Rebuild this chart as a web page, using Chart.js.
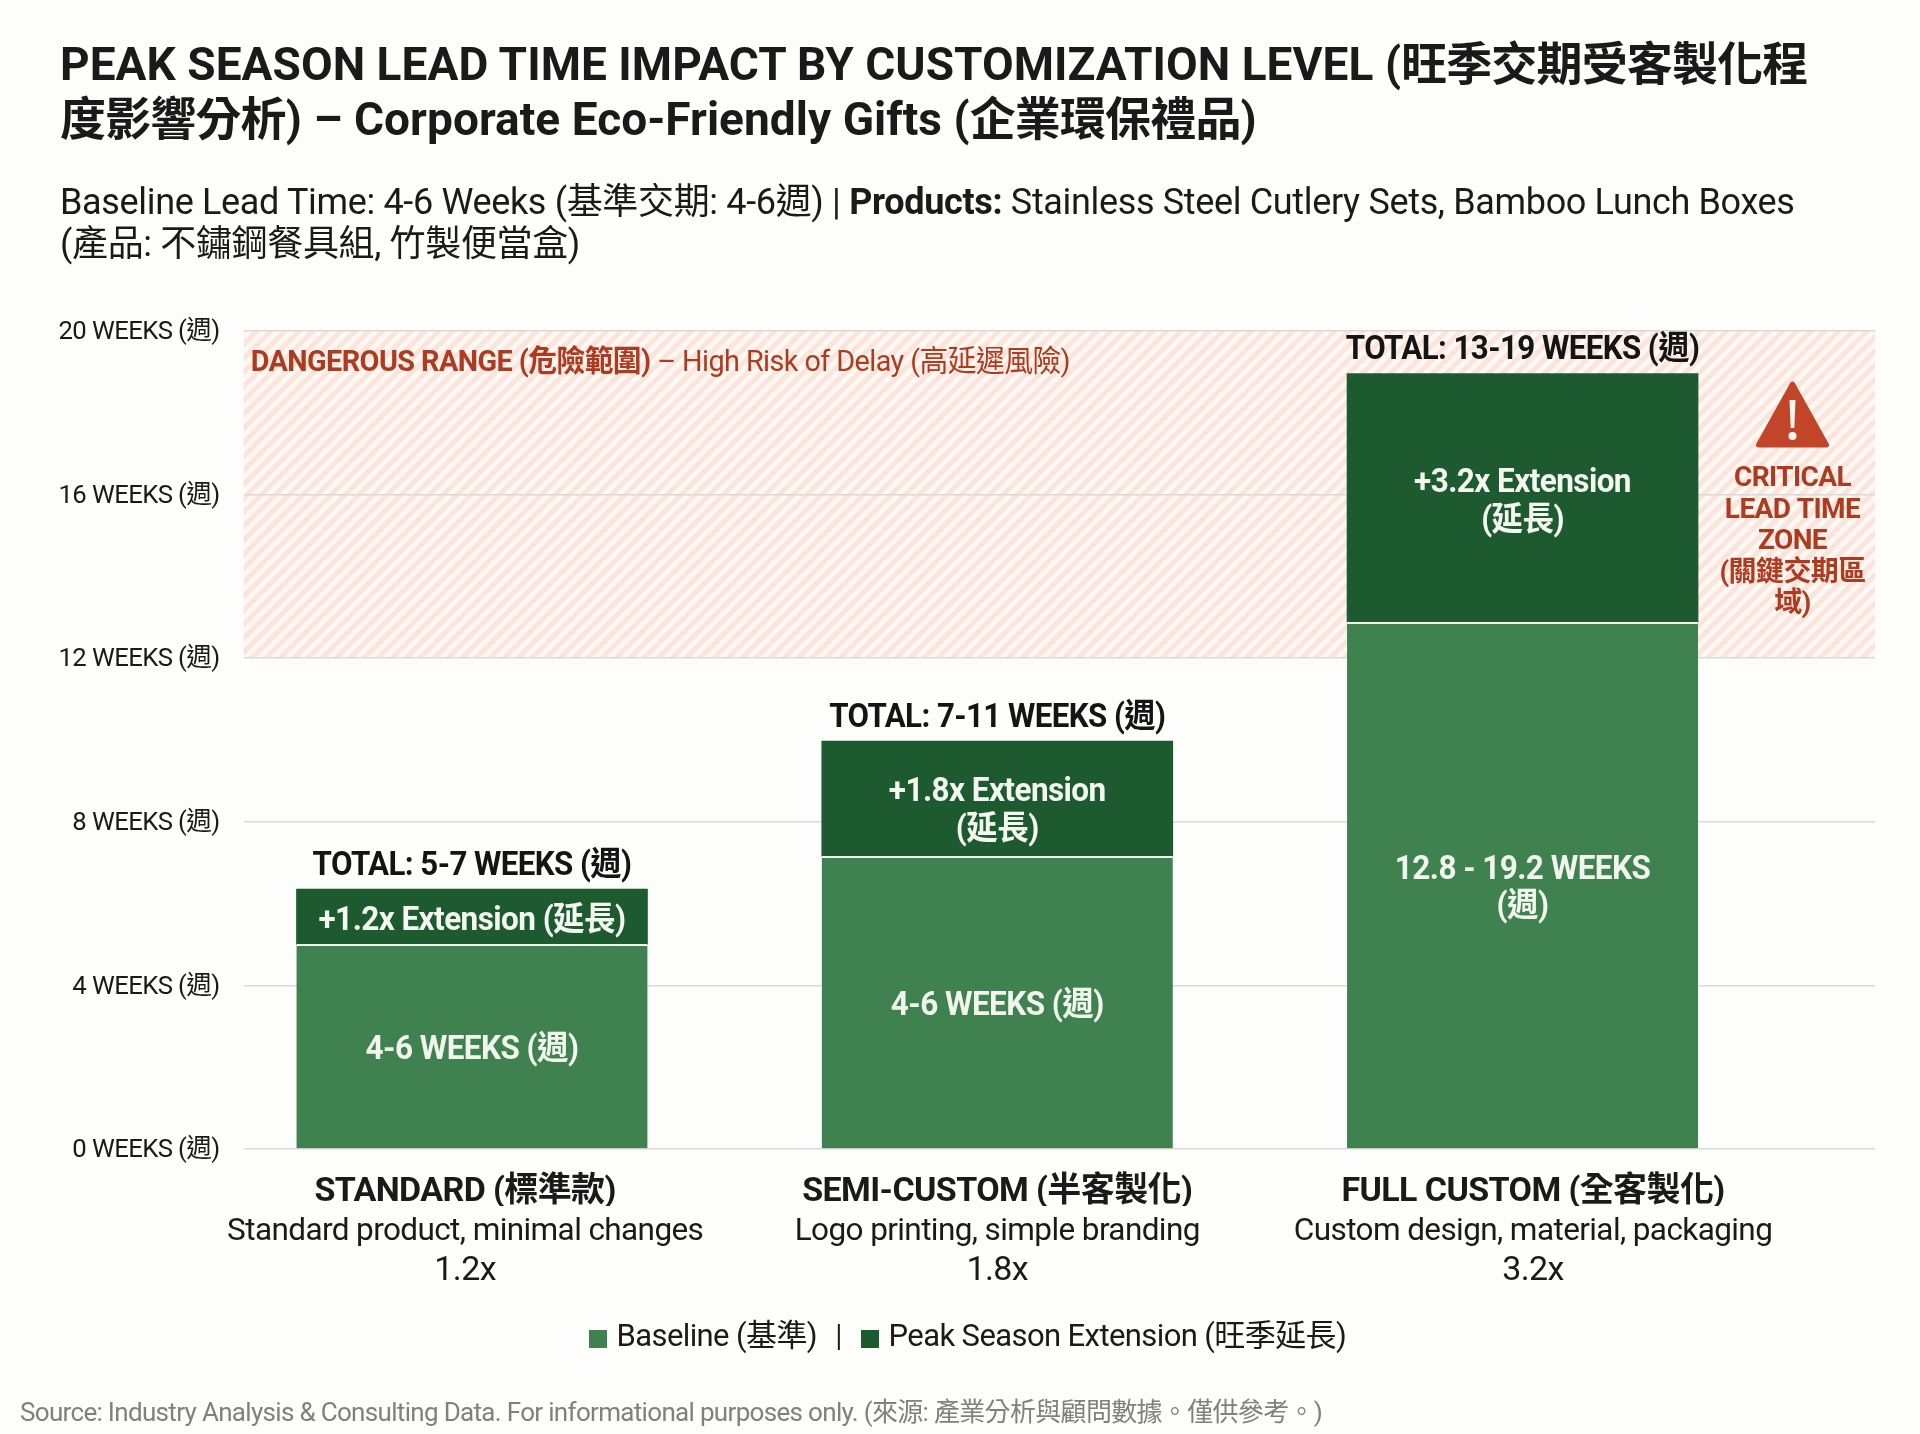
<!DOCTYPE html>
<html><head><meta charset="utf-8">
<script src="https://cdn.jsdelivr.net/npm/chart.js@4"></script>
<style>
html,body{margin:0;padding:0;background:#fdfdfb;width:1920px;height:1434px;overflow:hidden}
body{font-family:Roboto,"Noto Sans CJK TC",sans-serif;position:relative}
#wrap{position:absolute;left:0;top:0;width:1920px;height:1434px}
.t{position:absolute;white-space:nowrap;color:#1a1a1a}
#title{left:60px;top:37px;font-weight:700;font-size:46px;line-height:55px;letter-spacing:.04px}
#title span{letter-spacing:-.85px}
#sub{left:60px;top:181px;font-size:36px;line-height:42px;letter-spacing:-.34px}
#src{left:20px;top:1395px;font-size:26px;line-height:34px;color:#808080;letter-spacing:-.68px}
</style></head><body>
<div id="wrap"><canvas id="c" width="1920" height="1434"></canvas></div>
<div class="t" id="title">PEAK SEASON LEAD TIME IMPACT BY CUSTOMIZATION LEVEL (<span>旺季交期受客製化程</span><br><span>度影響分析</span>) – Corporate Eco-Friendly Gifts (<span>企業環保禮品</span>)</div>
<div class="t" id="sub">Baseline Lead Time: 4-6 Weeks (基準交期: 4-6週) | <b>Products:</b> Stainless Steel Cutlery Sets, Bamboo Lunch Boxes<br>(產品: 不鏽鋼餐具組, 竹製便當盒)</div>
<div class="t" id="src">Source: Industry Analysis &amp; Consulting Data. For informational purposes only. (來源: 產業分析與顧問數據。僅供參考。)</div>
<script>
const categories=["STANDARD (標準款)","SEMI-CUSTOM (半客製化)","FULL CUSTOM (全客製化)"];
const descriptions=["Standard product, minimal changes","Logo printing, simple branding","Custom design, material, packaging"];
const multipliers=["1.2x","1.8x","3.2x"];
const baseline=[5,7.15,12.87];
const extension=[1.35,2.82,6.08];
const totals=["TOTAL: 5-7 WEEKS (週)","TOTAL: 7-11 WEEKS (週)","TOTAL: 13-19 WEEKS (週)"];
const baseLabels=[["4-6 WEEKS (週)"],["4-6 WEEKS (週)"],["12.8 - 19.2 WEEKS","(週)"]];
const extLabels=[["+1.2x Extension (延長)"],["+1.8x Extension","(延長)"],["+3.2x Extension","(延長)"]];
const yTicks=[0,4,8,12,16,20];
const yTickText=["0 WEEKS (週)","4 WEEKS (週)","8 WEEKS (週)","12 WEEKS (週)","16 WEEKS (週)","20 WEEKS (週)"];
const dangerFrom=12, dangerTo=20;
const seriesNames=["Baseline (基準)","Peak Season Extension (旺季延長)"];
const labelPositions=[-0.013,1.0,2.02];
const critical=["CRITICAL","LEAD TIME","ZONE","(關鍵交期區","域)"];
const seriesColors=['#40824f','#1e5a30'];

const FF='Roboto, "Noto Sans CJK TC", sans-serif';
const LS='-0.6px';
const RED='#ac3b1f';
function hatch(ctx){
  const p=14,c=document.createElement('canvas');c.width=c.height=p;
  const g=c.getContext('2d');
  g.fillStyle='#fdf8f3';g.fillRect(0,0,p,p);
  g.strokeStyle='#fbe4dc';g.lineWidth=5;
  for(const o of [-p,0,p]){g.beginPath();g.moveTo(o-1,p+1);g.lineTo(o+p+1,-1);g.stroke();}
  return ctx.createPattern(c,'repeat');
}
function swatch(col){const c=document.createElement('canvas');c.width=c.height=18;const g=c.getContext('2d');g.fillStyle=col;g.fillRect(0,0,18,18);return c;}
const swatches=seriesColors.map(swatch);
const legendStartX=595, legendTop=1273;
const decor={
  id:'decor',
  afterLayout(ch){
    const L=ch.legend;
    const pad=L.options.labels.padding;
    const start=(L.left+pad+L.right-L.lineWidths[0])/2;
    const dx=legendStartX-start, dy=legendTop-L.top;
    L.left+=dx;L.right+=dx;L.top+=dy;L.bottom+=dy;
  },
  beforeDraw(ch){
    const {ctx,chartArea:a,scales:{y}}=ch;
    ctx.letterSpacing=LS;
    ctx.save();ctx.fillStyle=hatch(ctx);
    ctx.fillRect(a.left,y.getPixelForValue(dangerTo),a.right-a.left,y.getPixelForValue(dangerFrom)-y.getPixelForValue(dangerTo));
    ctx.restore();
  },
  afterDatasetsDraw(ch){
    const {ctx,scales:{y}}=ch;
    const b=ch.getDatasetMeta(0).data,e=ch.getDatasetMeta(1).data;
    ctx.save();ctx.textAlign='center';ctx.textBaseline='middle';
    const put=(s,x,yy,sx)=>{ctx.save();ctx.translate(x,yy);ctx.scale(sx,1);ctx.fillText(s,0,0);ctx.restore();};
    const block=(lines,x,cy,font,col,lh,sx=0.955)=>{ctx.font=font;ctx.fillStyle=col;
      lines.forEach((l,i)=>put(l,x,cy+(i-(lines.length-1)/2)*lh,sx));};
    b.forEach((bar,i)=>{
      block(baseLabels[i],bar.x,(bar.y+bar.base)/2+4,`700 33px ${FF}`,'#f1f5ee',37.5);
      block(extLabels[i],e[i].x,(e[i].y+e[i].base)/2+5+(i==1?8:0),`700 33px ${FF}`,'#f4f6f0',37.5);
      block([totals[i]],e[i].x,e[i].y-22.5,`700 33px ${FF}`,'#141414',38,0.947);
    });
    const top=y.getPixelForValue(dangerTo);
    ctx.textAlign='left';ctx.fillStyle=RED;
    let x=ch.chartArea.left+7;const yy=top+33,sx=0.96;
    ctx.font=`700 30px ${FF}`;const s1='DANGEROUS RANGE (危險範圍)';put(s1,x,yy,sx);x+=ctx.measureText(s1).width*sx;
    ctx.font=`400 30px ${FF}`;put(' – High Risk of Delay (高延遲風險)',x,yy,sx);
    const cx=1792.5;
    ctx.fillStyle='#c2452a';ctx.strokeStyle='#c2452a';ctx.lineJoin='round';ctx.lineWidth=5;
    ctx.beginPath();ctx.moveTo(cx,384);ctx.lineTo(cx+34,445);ctx.lineTo(cx-34,445);ctx.closePath();ctx.fill();ctx.stroke();
    ctx.fillStyle='#fdf6f0';ctx.beginPath();ctx.moveTo(cx-3,400);ctx.lineTo(cx+3,400);ctx.lineTo(cx+1.8,428);ctx.lineTo(cx-1.8,428);ctx.closePath();ctx.fill();
    ctx.beginPath();ctx.arc(cx,436,4,0,7);ctx.fill();
    ctx.textAlign='center';
    block(critical,cx,542,`700 28px ${FF}`,RED,31.5,1);
    ctx.restore();
  },
  afterDraw(ch){
    const {ctx,legend:L}=ch;const h=L.legendHitBoxes;
    ctx.save();ctx.strokeStyle='#1a1a1a';ctx.lineWidth=2;
    const x=legendStartX+(h[0].width+(h[1].left-h[0].left)-8)/2-7,y=1337;
    ctx.beginPath();ctx.moveTo(x,y-13);ctx.lineTo(x,y+13);ctx.stroke();ctx.restore();
  }
};
const pts=a=>a.map((v,i)=>({x:i,y:v}));
const xAxis=(texts,font,height,padding)=>({
  type:'linear',position:'bottom',min:-0.4346,max:2.671,stacked:true,offset:false,
  grid:{display:false,drawTicks:false,offset:false},border:{display:false},
  afterBuildTicks(s){s.ticks=labelPositions.map(v=>({value:v}));},
  afterFit(s){s.height=height;},
  ticks:{autoSkip:false,maxRotation:0,minRotation:0,padding,color:'#1a1a1a',font,callback:(v,i)=>texts[i]}
});
new Chart(document.getElementById('c'),{
  type:'bar',
  data:{datasets:[
    {label:seriesNames[0],data:pts(baseline),backgroundColor:seriesColors[0],borderColor:'#f4f6f1',borderWidth:{top:2,left:0,right:0,bottom:0},borderSkipped:false,barThickness:351},
    {label:seriesNames[1],data:pts(extension),backgroundColor:seriesColors[1],borderWidth:0,barThickness:351}
  ]},
  plugins:[decor],
  options:{
    responsive:false,animation:false,devicePixelRatio:1,
    layout:{padding:{left:0,right:45,top:330.6,bottom:52}},
    plugins:{
      title:{display:false},tooltip:{enabled:false},
      legend:{display:true,position:'bottom',align:'center',
        labels:{usePointStyle:true,pointStyleWidth:6,boxHeight:18,padding:50,color:'#1a1a1a',font:{family:FF,size:31},
          generateLabels(ch){return Chart.defaults.plugins.legend.labels.generateLabels(ch).map((it,i)=>({...it,pointStyle:swatches[i]}));}}}
    },
    scales:{
      x:xAxis(categories,{family:FF,size:34,weight:'700'},57,23),
      x2:xAxis(descriptions,{family:FF,size:31.5},45,7.5),
      x3:xAxis(multipliers,{family:FF,size:34},40,0),
      y:{stacked:true,min:0,max:20,position:'left',
        afterFit(s){s.width=243.7;
          if(!s._wrapped){const o=s._computeLabelItems;s._computeLabelItems=function(c){const it=o.call(this,c);it.forEach(i=>{i.options.translation=[i.options.translation[0],i.options.translation[1]+2];});return it;};s._wrapped=true;}},
        afterBuildTicks(s){s.ticks=yTicks.map(v=>({value:v}));},
        grid:{color:'#d9d9d5',lineWidth:1.5,drawTicks:false},border:{display:false},
        ticks:{padding:24,color:'#1a1a1a',font:{family:FF,size:25.7},callback:(v,i)=>yTickText[i]}
      }
    }
  }
});
</script></body></html>
